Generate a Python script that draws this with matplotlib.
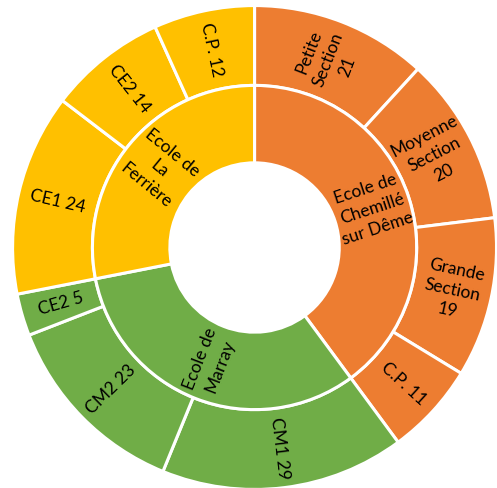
import matplotlib
matplotlib.use("Agg")
import matplotlib.pyplot as plt

plt.rcParams['font.family'] = ['Lato', 'DejaVu Sans']

# inner ring: schools
schools = ["Ecole de\nChemillé\nsur Dême", "Ecole de\nMarray", "Ecole de\nLa\nFerrière"]
school_colors = ["#ED7D31", "#70AD47", "#FFC000"]

# outer ring: classes (name, pupils), same order as schools
class_names = ["Petite\nSection", "Moyenne\nSection", "Grande\nSection", "C.P.",
               "CM1", "CM2", "CE2",
               "CE1", "CE2", "C.P."]
class_values = [21, 20, 19, 11, 29, 23, 5, 24, 14, 12]
class_school = [0, 0, 0, 0, 1, 1, 1, 2, 2, 2]

school_values = [sum(v for v, s in zip(class_values, class_school) if s == i)
                 for i in range(len(schools))]

class_labels = []
for n, v in zip(class_names, class_values):
    sep = "\n" if "\n" in n else " "
    class_labels.append(n + sep + str(v))
class_colors = [school_colors[s] for s in class_school]

fig = plt.figure(figsize=(4.97, 4.88), dpi=100)
ax = fig.add_axes([0, 0, 1, 1])

txt = dict(ha='center', va='center', rotation_mode='anchor',
           multialignment='center', fontsize=12.5, color='black', linespacing=1.35)
wedge = dict(edgecolor='white', linewidth=2.2)

R = 1.0
R_in = 0.67
hole = 0.35

ax.pie(class_values, labels=class_labels, colors=class_colors, radius=R,
       startangle=90, counterclock=False, rotatelabels=True,
       labeldistance=(R + R_in) / 2 / R,
       wedgeprops=dict(width=R - R_in, **wedge), textprops=txt)

ax.pie(school_values, labels=schools, colors=school_colors, radius=R_in,
       startangle=90, counterclock=False, rotatelabels=True,
       labeldistance=(R_in + hole) / 2 / R_in,
       wedgeprops=dict(width=R_in - hole, **wedge), textprops=txt)

ax.set_xlim(-1.052, 1.002)
ax.set_ylim(-0.994, 1.023)
ax.set_aspect('auto')
ax.axis('off')

fig.savefig("out.png", dpi=100)
